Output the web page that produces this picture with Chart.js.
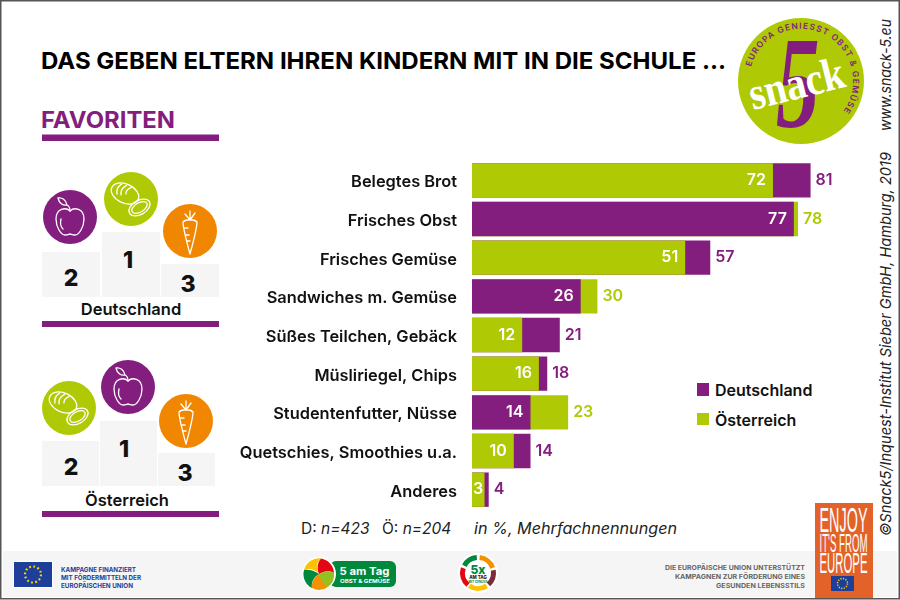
<!DOCTYPE html>
<html lang="de">
<head>
<meta charset="utf-8">
<title>Favoriten</title>
<script src="https://cdn.jsdelivr.net/npm/chart.js@4/dist/chart.umd.min.js"></script>
<style>
  html, body { margin: 0; padding: 0; background: #fff; }
  #page { position: relative; width: 900px; height: 600px; overflow: hidden; font-family: Inter, "Open Sans", sans-serif; }
  #deco, #chart { position: absolute; left: 0; top: 0; }
  .num { font-size: 23px; font-weight: 800; text-anchor: middle; fill: #111; }
  .leg { font-size: 16px; font-weight: 600; fill: #111; }
  .note { font-size: 15.5px; fill: #222; }
  .side { font-size: 15px; font-style: italic; fill: #222; }
  .line { fill: none; stroke: #fff; stroke-width: 1.3; stroke-linecap: round; stroke-linejoin: round; }
  .small { font-size: 6.8px; font-weight: 700; }
</style>
</head>
<body>
<div id="page">
<svg id="deco" width="900" height="600" viewBox="0 0 900 600" xmlns="http://www.w3.org/2000/svg">
  <defs>
    <g id="apple">
      <circle r="27" fill="#841e7e"/>
      <path class="line" d="M0-6C-4-10-14-9-14 2C-14 10-9 18-5 18C-2 18-1 17 0 17C1 17 2 18 5 18C9 18 14 10 14 2C14-9 4-10 0-6Z"/>
      <path class="line" d="M-12-19C-8-20-4-17-3-12C-7-11-11-14-12-19ZM0-6C0-8-1-11-3-12M-9 2C-10 6-9 10-7 12"/>
    </g>
    <g id="bread">
      <circle r="27" fill="#afca05"/>
      <g transform="translate(-6,-5.5) rotate(25)">
        <ellipse class="line" rx="14.5" ry="9.5"/>
        <path class="line" d="M-7-7C-10-3-9 1-7 4M-2-8C-5-4-5 0-3 3M3-8C0-5 0-2 1 0"/>
      </g>
      <g transform="translate(8.5,8.5) rotate(-30)">
        <ellipse class="line" rx="11.5" ry="7"/>
        <ellipse class="line" rx="8.5" ry="4.6"/>
      </g>
    </g>
    <g id="carrot">
      <circle r="27" fill="#f18700"/>
      <path class="line" d="M-7-9C-4-12 4-12 7-9C7-3 3 12 0 23C-3 12-7-3-7-9Z"/>
      <path class="line" d="M0-11L0-20M0-11L-5-17M0-11L5-18M-6-3L-2-3M-4 4L-1 4M-3 10L0 10"/>
    </g>
    <g id="euFlag">
      <rect x="-19" y="-12.5" width="38" height="25" fill="#1d3f9a"/>
      <circle r="8" fill="none" stroke="#ffd500" stroke-width="2.2" stroke-dasharray="1.8 2.4"/>
    </g>
    <path id="logoArc" d="M751 66.7A52 52 0 1 1 843 111.5"/>
  </defs>

  <!-- frame and footer band -->
  <rect x="3" y="551" width="894" height="46" fill="#f5f5f5"/>
  <rect x="0.75" y="0.75" width="898.5" height="598" fill="none" stroke="#555" stroke-width="1.5"/>

  <text x="41" y="68.5" font-size="23.5" font-weight="700" fill="#000" textLength="685" lengthAdjust="spacingAndGlyphs">DAS GEBEN ELTERN IHREN KINDERN MIT IN DIE SCHULE ...</text>
  <text x="41" y="128" font-size="23" font-weight="700" fill="#841e7e" textLength="134" lengthAdjust="spacingAndGlyphs">FAVORITEN</text>
  <rect x="42" y="134.5" width="177" height="6.5" fill="#841e7e"/>

  <!-- podium Deutschland -->
  <rect x="42" y="252" width="58" height="45" fill="#f5f5f5"/>
  <rect x="102" y="232" width="58" height="65" fill="#f5f5f5"/>
  <rect x="161" y="264" width="58" height="33" fill="#f5f5f5"/>
  <text class="num" x="71" y="286">2</text>
  <text class="num" x="128" y="268">1</text>
  <text class="num" x="188" y="292">3</text>
  <use href="#apple" x="70" y="217"/>
  <use href="#bread" x="131" y="199"/>
  <use href="#carrot" x="190" y="231"/>
  <text x="131" y="315" font-size="16.5" font-weight="600" fill="#111" text-anchor="middle">Deutschland</text>
  <rect x="42" y="321" width="177" height="6" fill="#841e7e"/>

  <!-- podium Oesterreich -->
  <rect x="42" y="441" width="57" height="45" fill="#f5f5f5"/>
  <rect x="100" y="421" width="57" height="65" fill="#f5f5f5"/>
  <rect x="158" y="453" width="57" height="33" fill="#f5f5f5"/>
  <text class="num" x="71" y="475">2</text>
  <text class="num" x="124" y="457">1</text>
  <text class="num" x="185" y="481">3</text>
  <use href="#bread" x="69" y="408"/>
  <use href="#apple" x="128" y="387"/>
  <use href="#carrot" x="186" y="421"/>
  <text x="127" y="506" font-size="16.5" font-weight="600" fill="#111" text-anchor="middle">Österreich</text>
  <rect x="42" y="511" width="177" height="6" fill="#841e7e"/>

  <!-- legend -->
  <rect x="697" y="383" width="12" height="13" fill="#841e7e"/>
  <text class="leg" x="715" y="396">Deutschland</text>
  <rect x="697" y="413" width="12" height="12" fill="#afca05"/>
  <text class="leg" x="715" y="426">Österreich</text>

  <!-- sample note -->
  <text class="note" x="301" y="534">D: <tspan font-style="italic">n=423</tspan></text>
  <text class="note" x="382" y="534">Ö: <tspan font-style="italic">n=204</tspan></text>
  <text class="note" x="474" y="534" font-style="italic" textLength="203" lengthAdjust="spacingAndGlyphs">in %, Mehrfachnennungen</text>

  <!-- side credits -->
  <text class="side" transform="translate(891,131) rotate(-90)" textLength="112" lengthAdjust="spacingAndGlyphs">www.snack-5.eu</text>
  <text class="side" transform="translate(891,536) rotate(-90)" textLength="384" lengthAdjust="spacingAndGlyphs">©Snack5/Inquest-Institut Sieber GmbH, Hamburg, 2019</text>

  <!-- snack5 logo -->
  <circle cx="801" cy="81" r="63" fill="#afca05"/>
  <text fill="#841e7e" font-size="8.5" font-weight="600"><textPath href="#logoArc" textLength="181">EUROPA GENIESST OBST &amp; GEMÜSE</textPath></text>
  <text transform="translate(776,127) scale(0.66,1)" font-family="'Liberation Serif', serif" font-style="italic" font-weight="700" font-size="132" fill="#841e7e">5</text>
  <text transform="translate(753,110) rotate(-14)" font-family="'Liberation Serif', serif" font-weight="700" font-size="46" fill="#fff" textLength="97" lengthAdjust="spacingAndGlyphs">snack</text>

  <!-- footer left -->
  <rect x="13" y="561" width="40" height="27" fill="#fff"/>
  <use href="#euFlag" x="33" y="574.5"/>
  <g class="small" fill="#1d3f9a">
    <text x="61" y="572" textLength="75" lengthAdjust="spacingAndGlyphs">KAMPAGNE FINANZIERT</text>
    <text x="61" y="580" textLength="80" lengthAdjust="spacingAndGlyphs">MIT FÖRDERMITTELN DER</text>
    <text x="61" y="588" textLength="72" lengthAdjust="spacingAndGlyphs">EUROPÄISCHEN UNION</text>
  </g>

  <!-- 5 am Tag logo -->
  <rect x="330" y="561" width="66" height="26" rx="6" fill="#00893d"/>
  <circle cx="319" cy="574" r="17" fill="#fff"/>
  <g transform="translate(319,574)">
    <path d="M0 0C-3-5-3-12 2-15.5A15.5 15.5 0 0 0-15 -4C-10-6-4-5 0 0Z" fill="#fdc300"/>
    <path d="M0 0C5-3 11-4 15-1A15.5 15.5 0 0 0 2-15.5C-2-11-2-5 0 0Z" fill="#e30613"/>
    <path d="M0 0C0 5 3 11 9 13A15.5 15.5 0 0 0 15-1C10-4 5-3 0 0Z" fill="#95c11f"/>
    <path d="M0 0C-4 3-8 8-7 14A15.5 15.5 0 0 0 9 13C4 10 1 5 0 0Z" fill="#f39200"/>
    <path d="M0 0C-5-4-11-5-15-4A15.5 15.5 0 0 0-7 14C-8 8-5 3 0 0Z" fill="#00893d"/>
  </g>
  <text x="339.5" y="575" font-size="11" font-weight="700" fill="#fff" textLength="50" lengthAdjust="spacingAndGlyphs">5 am Tag</text>
  <text x="340" y="582.5" font-size="5" font-weight="700" fill="#fff" textLength="50" lengthAdjust="spacingAndGlyphs">OBST &amp; GEMÜSE</text>

  <!-- 5x am Tag logo -->
  <circle cx="478" cy="573" r="20" fill="#fff"/>
  <g fill="none" stroke-width="5">
    <circle cx="478" cy="573" r="15.5" pathLength="100" stroke-dasharray="16 84" stroke="#00893d" transform="rotate(-152 478 573)"/>
    <circle cx="478" cy="573" r="15.5" pathLength="100" stroke-dasharray="18 82" stroke="#f39200" transform="rotate(-84 478 573)"/>
    <circle cx="478" cy="573" r="15.5" pathLength="100" stroke-dasharray="16 84" stroke="#7a2a3a" transform="rotate(-10 478 573)"/>
    <circle cx="478" cy="573" r="15.5" pathLength="100" stroke-dasharray="19 81" stroke="#fdc300" transform="rotate(56 478 573)"/>
    <circle cx="478" cy="573" r="15.5" pathLength="100" stroke-dasharray="19 81" stroke="#e30613" transform="rotate(130 478 573)"/>
  </g>
  <text x="478" y="574" font-size="12" font-weight="800" fill="#00893d" text-anchor="middle">5x</text>
  <text x="478" y="579" font-size="4.4" font-weight="800" fill="#222" text-anchor="middle">AM TAG</text>
  <text x="478" y="583" font-size="3" font-weight="700" fill="#00893d" text-anchor="middle">MIT GENUSS</text>

  <!-- footer right -->
  <g class="small" fill="#666">
    <text x="665" y="569.5" textLength="140" lengthAdjust="spacingAndGlyphs">DIE EUROPÄISCHE UNION UNTERSTÜTZT</text>
    <text x="675" y="578.5" textLength="130" lengthAdjust="spacingAndGlyphs">KAMPAGNEN ZUR FÖRDERUNG EINES</text>
    <text x="716" y="587.5" textLength="89" lengthAdjust="spacingAndGlyphs">GESUNDEN LEBENSSTILS</text>
  </g>

  <!-- enjoy box -->
  <rect x="815" y="503" width="58" height="95" fill="#e2622a"/>
  <g font-family="'Liberation Sans Narrow', 'Liberation Sans', sans-serif" fill="#fff">
    <text x="819.5" y="532" font-size="35" textLength="48" lengthAdjust="spacingAndGlyphs">ENJOY</text>
    <text x="819.5" y="551.5" font-size="25" textLength="48" lengthAdjust="spacingAndGlyphs">IT'S FROM</text>
    <text x="819.5" y="573" font-size="29" textLength="48" lengthAdjust="spacingAndGlyphs">EUROPE</text>
  </g>
  <rect x="831" y="576" width="23" height="15" fill="#1d3f9a"/>
  <circle cx="842.5" cy="583.5" r="5" fill="none" stroke="#ffd500" stroke-width="1.5" stroke-dasharray="1.2 1.4"/>
</svg>
<canvas id="chart" width="900" height="600"></canvas>
</div>

<script>
const categories = ['Belegtes Brot', 'Frisches Obst', 'Frisches Gemüse', 'Sandwiches m. Gemüse', 'Süßes Teilchen, Gebäck', 'Müsliriegel, Chips', 'Studentenfutter, Nüsse', 'Quetschies, Smoothies u.a.', 'Anderes'];
const deutschland = [81, 77, 57, 26, 21, 18, 14, 14, 4];
const oesterreich = [72, 78, 51, 30, 12, 16, 23, 10, 3];

const PURPLE = '#841e7e';
const GREEN = '#afca05';

// the shorter bar of each row sits in front of the longer one
const frontValues = categories.map((_, i) => Math.min(deutschland[i], oesterreich[i]));
const backValues = categories.map((_, i) => Math.max(deutschland[i], oesterreich[i]));
const frontColors = categories.map((_, i) => deutschland[i] <= oesterreich[i] ? PURPLE : GREEN);
const backColors = categories.map((_, i) => deutschland[i] <= oesterreich[i] ? GREEN : PURPLE);

const valueLabels = {
    id: 'valueLabels',
    afterDatasetsDraw(chart) {
        const ctx = chart.ctx;
        const front = chart.getDatasetMeta(0).data;
        const back = chart.getDatasetMeta(1).data;
        ctx.save();
        ctx.font = '600 16px Inter, sans-serif';
        ctx.textBaseline = 'middle';
        categories.forEach((_, i) => {
            const label = String(frontValues[i]);
            const x = Math.max(chart.chartArea.left + ctx.measureText(label).width + 1, front[i].x - 7);
            ctx.textAlign = 'right';
            ctx.fillStyle = '#fff';
            ctx.fillText(label, x, front[i].y);
            ctx.textAlign = 'left';
            ctx.fillStyle = backColors[i];
            ctx.fillText(String(backValues[i]), back[i].x + 5, back[i].y);
        });
        ctx.restore();
    }
};

new Chart(document.getElementById('chart'), {
    type: 'bar',
    data: {
        labels: categories,
        datasets: [
            { data: frontValues, backgroundColor: frontColors },
            { data: backValues, backgroundColor: backColors }
        ]
    },
    options: {
        indexAxis: 'y',
        responsive: false,
        animation: false,
        grouped: false,
        categoryPercentage: 1,
        barPercentage: 0.89,
        layout: { padding: { top: 161, bottom: 91, left: 0, right: 10 } },
        plugins: { legend: { display: false }, tooltip: { enabled: false } },
        scales: {
            x: { display: false, min: 0, max: 100 },
            y: {
                grid: { display: false, drawTicks: false },
                border: { display: false },
                afterFit(scale) { scale.width = 472; },
                ticks: {
                    autoSkip: false,
                    padding: 15,
                    labelOffset: 2,
                    color: '#111',
                    font: { family: 'Inter, sans-serif', size: 16.4, weight: '600' }
                }
            }
        }
    },
    plugins: [valueLabels]
});
</script>
</body>
</html>
